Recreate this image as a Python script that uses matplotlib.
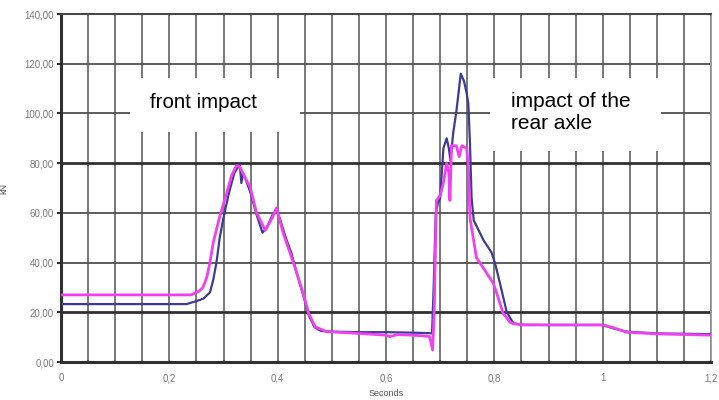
import matplotlib
matplotlib.use("Agg")
import matplotlib.pyplot as plt
from matplotlib.patches import Rectangle
import numpy as np

# ---- data ----
t_blue = [0, 0.232, 0.25, 0.263, 0.275, 0.281, 0.287, 0.293, 0.300, 0.310, 0.320, 0.330, 0.333,
          0.336, 0.340, 0.350, 0.360, 0.372, 0.380, 0.390, 0.398, 0.405, 0.415, 0.425,
          0.435, 0.447, 0.457, 0.468, 0.480, 0.5, 0.55, 0.6, 0.65, 0.68, 0.685, 0.688,
          0.692, 0.696, 0.700, 0.706, 0.712, 0.716, 0.719, 0.724, 0.730, 0.738, 0.744,
          0.749, 0.752, 0.755, 0.758, 0.762, 0.780, 0.795, 0.801, 0.810, 0.823, 0.835,
          0.85, 0.9, 0.95, 1.0, 1.02, 1.044, 1.1, 1.2]
blue = [23.3, 23.3, 24.5, 25.5, 28, 33, 40, 50, 58, 68, 76, 79.6, 72,
        76, 74, 68, 60, 52, 54, 59, 61, 57, 50, 44,
        36, 27, 19, 14, 12.5, 12.2, 12, 12, 11.8, 11.6, 11.5, 30,
        60, 64, 66, 86, 90, 86, 81, 92, 101, 116, 113,
        108, 104, 88, 66, 57, 49, 44, 40, 32, 20, 15.6,
        15, 14.9, 14.9, 14.9, 13.5, 12.2, 11.5, 11.2]

t_pink = [0, 0.24, 0.255, 0.262, 0.269, 0.275, 0.281, 0.293, 0.306, 0.315, 0.324, 0.330,
          0.340, 0.349, 0.361, 0.377, 0.390, 0.398, 0.41, 0.429, 0.447, 0.457, 0.469,
          0.49, 0.55, 0.6, 0.607, 0.62, 0.65, 0.68, 0.683, 0.686, 0.689, 0.693, 0.70,
          0.706, 0.712, 0.716, 0.718, 0.721, 0.730, 0.735, 0.740, 0.749, 0.752, 0.755,
          0.767, 0.786, 0.798, 0.804, 0.816, 0.829, 0.835, 0.853, 0.9, 0.95, 1.0,
          1.02, 1.044, 1.1, 1.2]
pink = [27, 27, 28.5, 30, 34, 40, 48, 58.5, 68, 75, 79, 78.6,
        74, 70.5, 60, 53, 58, 62, 52, 40, 27.7, 19.7, 14.2,
        12.2, 11.5, 10.8, 10.2, 11, 10.8, 10.3, 8, 4.8, 20, 65, 67,
        72, 80, 76, 65, 87, 87, 82.6, 87, 86, 78.6, 58,
        42, 35.7, 31.7, 28, 19.7, 16, 15.4, 14.9, 14.9, 14.9, 14.9,
        13.8, 12, 11.3, 10.8]

y_ticks = [0, 20, 40, 60, 80, 100, 120, 140]
y_ticklabels = ["0,00", "20,00", "40,00", "60,00", "80,00", "100,00", "120,00", "140,00"]
x_ticks = [0, 0.2, 0.4, 0.6, 0.8, 1.0, 1.2]
x_ticklabels = ["0", "0,2", "0,4", "0,6", "0,8", "1", "1,2"]

plt.rcParams['font.family'] = ['Liberation Sans', 'DejaVu Sans']

fig = plt.figure(figsize=(7.19, 4.0), dpi=100)
ax = fig.add_axes([61/719, 38/400, 650/719, 348/400])

# grid
for xv in np.arange(0.05, 1.2001, 0.05):
    ax.axvline(xv, color="#5a5a5a", lw=1.15, zorder=1)
for yv in y_ticks[1:]:
    w = 2.0 if yv in (20, 80) else 1.3
    c = "#303030" if yv in (20, 80) else "#505050"
    ax.axhline(yv, color=c, lw=w, zorder=1)

ax.plot(t_blue, blue, color="#3c3c96", lw=1.6, zorder=3)
ax.plot(t_pink, pink, color="#f040f0", lw=2.0, zorder=4)

ax.set_xlim(0, 1.2)
ax.set_ylim(0, 140)
ax.set_yticks(y_ticks)
ax.set_yticklabels(y_ticklabels)
ax.set_xticks(x_ticks)
ax.set_xticklabels(x_ticklabels)
ax.tick_params(axis='y', length=3, width=1.5, color="#303030", labelsize=7,
               labelcolor="#7a7a7a", pad=2)
ax.tick_params(axis='x', length=0, labelsize=7, labelcolor="#7a7a7a", pad=8)
for s in ("left", "bottom"):
    ax.spines[s].set_color("#303030")
    ax.spines[s].set_linewidth(2.2)
ax.spines["top"].set_color("#484848")
ax.spines["top"].set_linewidth(1.5)
ax.spines["right"].set_color("#909090")
ax.spines["right"].set_linewidth(1.2)

ax.set_xlabel("Seconds", fontsize=6.5, color="#555555", labelpad=4)
ax.set_ylabel("kN", fontsize=6.5, color="#555555", labelpad=12)

# annotation boxes
fig.patches.append(Rectangle((130/719, 1-132/400), 170/719, 54/400,
                             transform=fig.transFigure, facecolor="white",
                             edgecolor="none", zorder=5))
fig.text(150/719, 1-102/400, "front impact", fontsize=14.8, color="black",
         va="center", ha="left", zorder=6)
fig.patches.append(Rectangle((490/719, 1-151/400), 171/719, 73/400,
                             transform=fig.transFigure, facecolor="white",
                             edgecolor="none", zorder=5))
fig.text(511/719, 1-112.5/400, "impact of the\nrear axle", fontsize=15, color="black",
         va="center", ha="left", linespacing=1.15, zorder=6)

fig.savefig("out.png", dpi=100)
